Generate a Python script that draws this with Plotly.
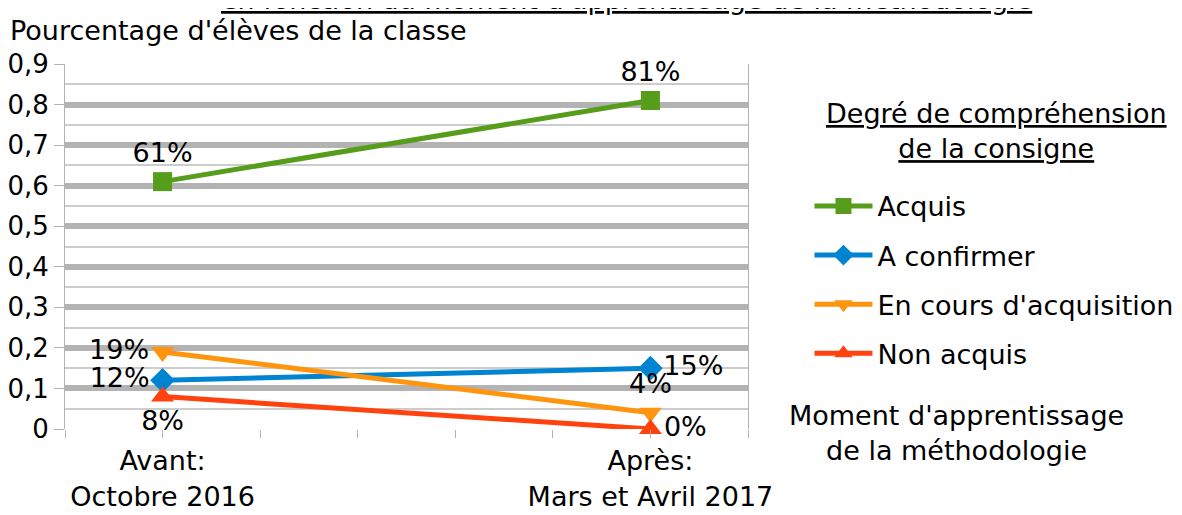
import plotly.graph_objects as go

categories = ["Avant:<br>Octobre 2016", "Après:<br>Mars et Avril 2017"]
x_pos = [0, 1]
series_names = ["Acquis", "A confirmer", "En cours d'acquisition", "Non acquis"]
acquis = [0.61, 0.81]
a_confirmer = [0.12, 0.15]
en_cours = [0.19, 0.04]
non_acquis = [0.08, 0.0]
y_ticks = [0, 0.1, 0.2, 0.3, 0.4, 0.5, 0.6, 0.7, 0.8, 0.9]

colors = ["#579d1c", "#0084d1", "#ff950e", "#ff420e"]
symbols = ["square", "diamond", "triangle-down", "triangle-up"]
sizes = [19, 19, 20, 20]
textpos = [
    ["top center", "top center"],
    ["middle left", "middle right"],
    ["middle left", "top center"],
    ["bottom center", "middle right"],
]
values = [acquis, a_confirmer, en_cours, non_acquis]

FONT = "DejaVu Sans, Liberation Sans, Arial, sans-serif"
FS = 27
fig = go.Figure()
for i, (name, vals) in enumerate(zip(series_names, values)):
    fig.add_trace(go.Scatter(
        x=x_pos, y=vals, name=name, legendgroup=name,
        mode="lines+markers+text",
        line=dict(color=colors[i], width=5),
        marker=dict(symbol=symbols[i], size=sizes[i], color=colors[i]),
        texttemplate="%{y:.0%}", textposition=textpos[i],
        textfont=dict(size=FS, color="black", family=FONT),
        cliponaxis=False,
    ))

fig.update_layout(
    width=1174, height=507,
    margin=dict(l=57, r=434, t=56, b=86, autoexpand=False),
    paper_bgcolor="white", plot_bgcolor="white",
    separators=", ",
    font=dict(family=FONT, size=FS, color="black"),
    showlegend=True,
    legend=dict(
        x=1.09, y=0.677, xanchor="left", yanchor="top",
        font=dict(size=FS, family=FONT), itemwidth=58,
        tracegroupgap=11, bgcolor="rgba(0,0,0,0)",
    ),
    xaxis=dict(
        range=[-0.2, 1.2], tickmode="array", automargin=False,
        tickvals=[-0.2, 0, 0.2, 0.4, 0.6, 0.8, 1, 1.2],
        ticktext=["", categories[0], "", "", "", "", categories[1], ""],
        ticks="outside", ticklen=8, tickcolor="#b3b3b3", tickwidth=1,
        showgrid=False, zeroline=False, showline=False,
        tickfont=dict(size=FS, color="black"),
    ),
    yaxis=dict(
        range=[0, 0.9], tickvals=y_ticks, automargin=False,
        ticks="outside", ticklen=10, tickcolor="#b3b3b3", tickwidth=1,
        showgrid=True, gridcolor="#b3b3b3", gridwidth=6,
        minor=dict(dtick=0.05, showgrid=True, gridcolor="#cccccc", gridwidth=1.5),
        zeroline=False, showline=True, linecolor="#b3b3b3", linewidth=1,
        mirror=True,
        tickfont=dict(size=26, color="black"),
    ),
)

fig.add_annotation(
    text="<u>en fonction du moment d'apprentissage de la méthodologie</u>",
    xref="paper", yref="paper", x=0.822, y=1.129,
    xanchor="center", yanchor="bottom", showarrow=False,
    font=dict(size=FS, color="black"),
)
fig.add_annotation(
    text="Pourcentage d'élèves de la classe",
    xref="paper", yref="paper", x=-0.083, y=1.093,
    xanchor="left", yanchor="middle", showarrow=False,
    font=dict(size=FS, color="black"),
)
fig.add_annotation(
    text="<u>Degré de compréhension</u><br><u>de la consigne</u>",
    xref="paper", yref="paper", x=1.364, y=0.816,
    xanchor="center", yanchor="middle", showarrow=False,
    font=dict(size=FS, color="black"),
)
fig.add_annotation(
    text="Moment d'apprentissage<br>de la méthodologie",
    xref="paper", yref="paper", x=1.306, y=-0.0096,
    xanchor="center", yanchor="middle", showarrow=False,
    font=dict(size=FS, color="black"),
)

fig.write_html("out.html")
